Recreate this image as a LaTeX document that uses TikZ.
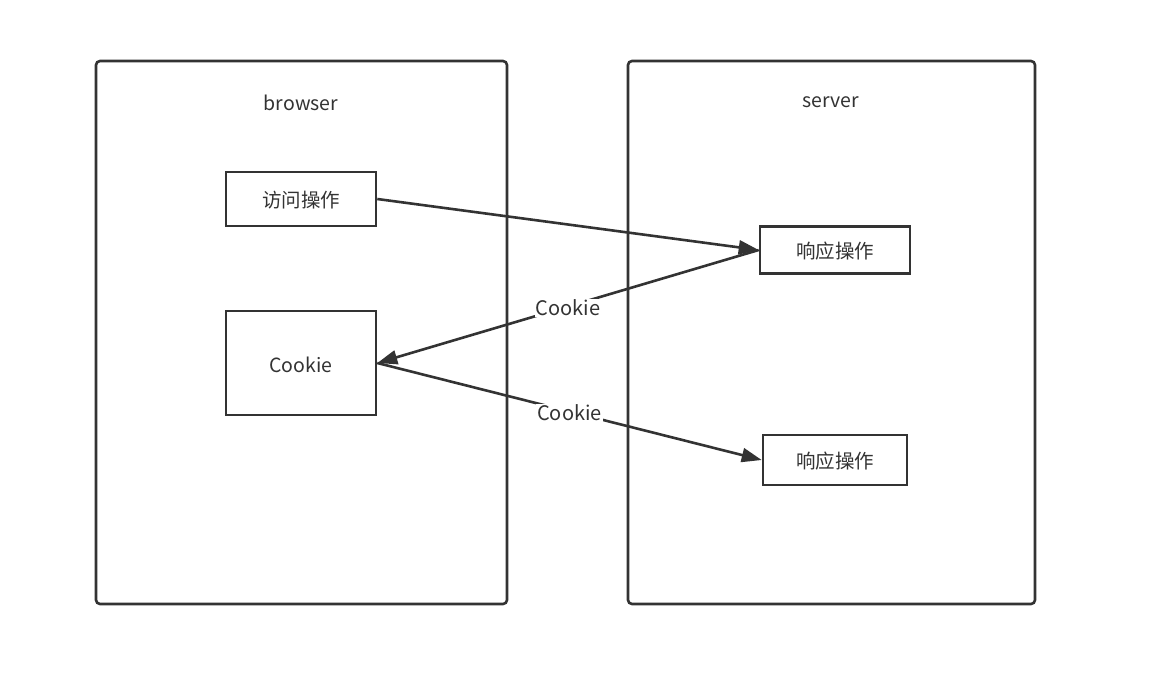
\documentclass[tikz,border=0pt]{standalone}
\usepackage{fontspec}
\setmainfont{Noto Sans CJK SC}
\usetikzlibrary{arrows.meta}
\definecolor{ink}{HTML}{333333}
\tikzset{
  panel/.style={draw=ink, line width=2.6pt, rounded corners=4pt},
  opbox/.style={draw=ink, line width=2.6pt, rectangle, inner sep=0pt},
  optext/.style={text=ink, font=\fontsize{19.5}{23}\selectfont, yshift=-1.5pt},
  title/.style={text=ink, font=\fontsize{19.5}{23}\selectfont},
  flow/.style={draw=ink, line width=2.6pt, -{Triangle[length=20pt,width=14pt]}},
  flowlabel/.style={fill=white, text=ink, inner sep=1pt, font=\fontsize{20}{23}\selectfont, yshift=-1.5pt}
}
\begin{document}
\begin{tikzpicture}[x=1pt,y=-1pt]
\useasboundingbox (0,0) rectangle (1164,675);
\fill[white] (0,0) rectangle (1164,675);
\draw[panel] (96,61) rectangle (507,604);
\draw[panel] (628,61) rectangle (1035,604);
\node[title] (tb) at (301,102.5) {browser};
\node[title] (ts) at (831,102.5) {server};
\node[opbox, minimum width=150pt, minimum height=54pt,
  label={[optext]center:访问操作}] (visit) at (301,199) {};
\node[opbox, minimum width=150pt, minimum height=104pt,
  label={[optext]center:Cookie}] (cookie) at (301,363) {};
\node[opbox, minimum width=150pt, minimum height=47pt,
  label={[optext]center:响应操作}] (resp1) at (835,250) {};
\node[opbox, minimum width=144pt, minimum height=50pt,
  label={[optext]center:响应操作}] (resp2) at (835,460) {};
\draw[flow] (visit.east) -- (resp1.west);
\draw[flow] (resp1.west) -- node[flowlabel] {Cookie} (cookie.east);
\draw[flow] (cookie.east) -- node[flowlabel] {Cookie} (resp2.west);
\end{tikzpicture}
\end{document}
